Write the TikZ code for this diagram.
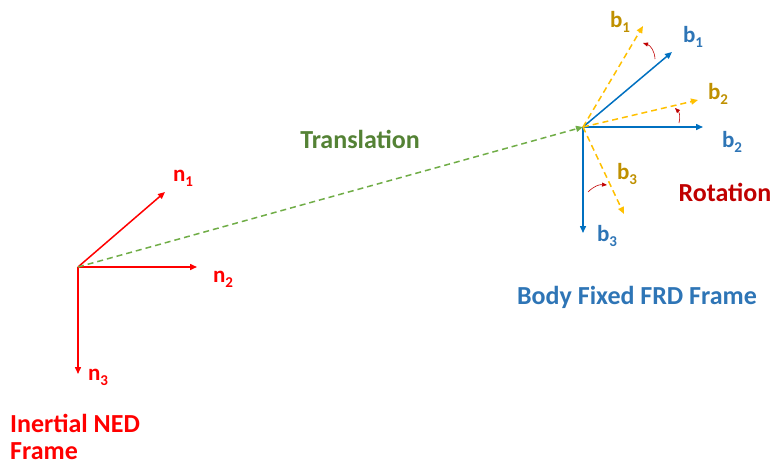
\documentclass[tikz,border=0pt]{standalone}
\usepackage{fontspec}
\setmainfont{Carlito}
\usetikzlibrary{arrows.meta}
\definecolor{nedred}{HTML}{FF0000}
\definecolor{rotred}{HTML}{C00000}
\definecolor{frdblue}{HTML}{0070C0}
\definecolor{frdtext}{HTML}{2E75B6}
\definecolor{newyel}{HTML}{FFC000}
\definecolor{yeltext}{HTML}{BF9000}
\definecolor{transgreen}{HTML}{70AD47}
\definecolor{transtext}{HTML}{548235}
\newcommand{\axislbl}[2]{#1\raisebox{-0.45ex}{\fontsize{15}{15}\selectfont #2}}
\tikzset{
  axis/.style={line width=1.5pt, -{Triangle[length=7pt,width=6pt]}},
  newaxis/.style={axis, newyel, dash pattern=on 6pt off 4pt},
  turn/.style={rotred, line width=0.6pt, -{Triangle[length=5pt,width=4pt]}},
  lbl/.style={font=\bfseries\fontsize{23}{25}\selectfont, inner sep=0pt},
  title/.style={font=\bfseries\fontsize{26}{27}\selectfont, inner sep=0pt}
}
\begin{document}
\begin{tikzpicture}[x=1pt, y=-1pt]
\useasboundingbox (0,0) rectangle (772,466);
% frame origins
\coordinate (O) at (78,267);
\coordinate (B) at (583,127);
% inertial NED axes
\coordinate (n1t) at (165,192);
\coordinate (n2t) at (197,267);
\coordinate (n3t) at (78,374);
\draw[axis, nedred] (O) -- (n1t);
\draw[axis, nedred] (O) -- (n2t);
\draw[axis, nedred] (O) -- (n3t);
\node[lbl, text=nedred] (n1) at (183,178) {\axislbl{n}{1}};
\node[lbl, text=nedred] (n2) at (223,279) {\axislbl{n}{2}};
\node[lbl, text=nedred] (n3) at (98,377) {\axislbl{n}{3}};
\node[title, text=nedred, align=left, anchor=base west] (ned) at (10,459) {Inertial NED\\Frame};
% translation between the frames
\draw[line width=1.5pt, transgreen, dash pattern=on 6pt off 4pt, -{Triangle[length=7pt,width=6pt]}] (O) -- (B);
\node[title, text=transtext] (trans) at (360,139) {Translation};
% body FRD axes
\coordinate (b1t) at (672,52);
\coordinate (b2t) at (703,127);
\coordinate (b3t) at (583,233);
\draw[axis, frdblue] (B) -- (b1t);
\draw[axis, frdblue] (B) -- (b2t);
\draw[axis, frdblue] (B) -- (b3t);
\node[lbl, text=frdtext] (b1) at (693,37) {\axislbl{b}{1}};
\node[lbl, text=frdtext] (b2) at (732,142) {\axislbl{b}{2}};
\node[lbl, text=frdtext] (b3) at (607,236) {\axislbl{b}{3}};
% rotated body axes
\coordinate (r1t) at (643,26);
\coordinate (r2t) at (698,100);
\coordinate (r3t) at (624,214);
\draw[newaxis] (B) -- (r1t);
\draw[newaxis] (B) -- (r2t);
\draw[newaxis] (B) -- (r3t);
\node[lbl, text=yeltext] (r1) at (620,22) {\axislbl{b}{1}};
\node[lbl, text=yeltext] (r2) at (718,94) {\axislbl{b}{2}};
\node[lbl, text=yeltext] (r3) at (627,174) {\axislbl{b}{3}};
% rotation sense
\coordinate (a1s) at (655,59);
\coordinate (a1e) at (643,43);
\coordinate (a2s) at (679,123);
\coordinate (a2e) at (675,108);
\coordinate (a3s) at (588,192);
\coordinate (a3e) at (607,185);
\draw[turn] (a1s) to[bend right=35] (a1e);
\draw[turn] (a2s) to[bend right=30] (a2e);
\draw[turn] (a3s) to[bend left=25] (a3e);
\node[title, text=rotred] (rot) at (725,192) {Rotation};
\node[title, text=frdtext] (frd) at (637,297) {Body Fixed FRD Frame};
\end{tikzpicture}
\end{document}
